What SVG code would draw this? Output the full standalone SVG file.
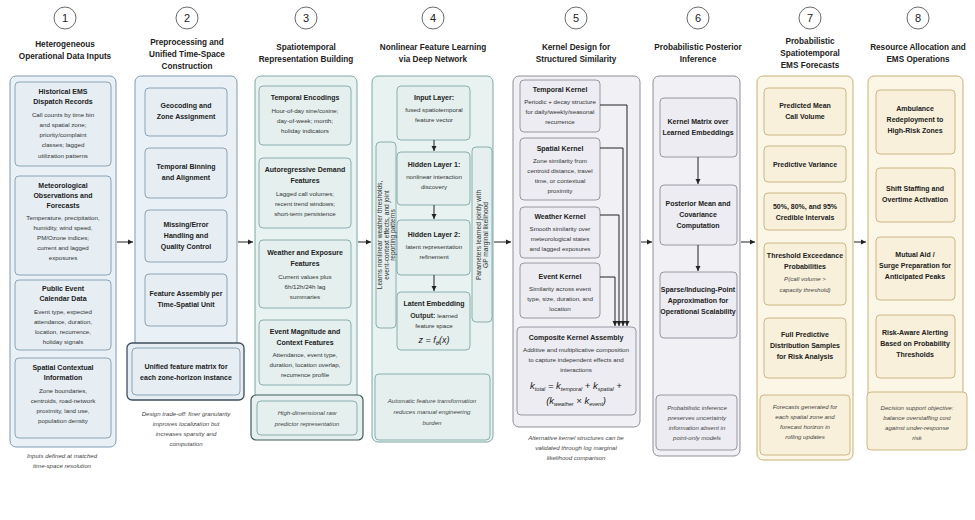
<svg xmlns="http://www.w3.org/2000/svg" width="975" height="520" viewBox="0 0 975 520">
<defs>
<marker id="ah" markerWidth="6" markerHeight="6" refX="5" refY="3" orient="auto"><path d="M0,0.5 L5,3 L0,5.5 z" fill="#222"/></marker>
<style>
text{font-family:"Liberation Sans Narrow","Liberation Sans",Arial,sans-serif;fill:#222;text-anchor:middle}
.h{font-size:8.2px;font-weight:bold}
.n{font-size:11px}
.t{font-size:7px;font-weight:bold}
.b{font-size:6.2px;fill:#333}
.v{font-size:6.6px;fill:#333}
.i{font-size:6.1px;font-style:italic;fill:#444}
.c{fill:#fff;stroke:#444;stroke-width:0.8}
.ob{fill:#eaf1f6;stroke:#7f9bb0;stroke-width:1}
.ib{fill:#e6eef4;stroke:#7f9bb0;stroke-width:0.9}
.ot{fill:#e8f2f1;stroke:#7fa8a6;stroke-width:1}
.it{fill:#e4efee;stroke:#7fa8a6;stroke-width:0.9}
.og{fill:#f1f1f5;stroke:#8e8e98;stroke-width:1}
.ig{fill:#ececf2;stroke:#8e8e98;stroke-width:0.9}
.oy{fill:#fbf6e6;stroke:#c8b07a;stroke-width:1}
.iy{fill:#f8f0da;stroke:#c8b07a;stroke-width:0.9}
.cn{stroke:#222;stroke-width:1;fill:none;marker-end:url(#ah)}
</style>
</defs>

<g id="col1">
<circle class="c" cx="65" cy="18" r="11"/><text class="n" x="65" y="22">1</text>
<text class="h" x="65" y="47">Heterogeneous</text><text class="h" x="65" y="59">Operational Data Inputs</text>
<rect class="ob" x="10" y="76" width="106" height="371" rx="6"/>
<rect class="ib" x="15" y="82" width="96" height="84" rx="4"/>
<text class="t" x="63" y="94">Historical EMS</text><text class="t" x="63" y="104">Dispatch Records</text>
<text class="b" x="63" y="117">Call counts by time bin</text><text class="b" x="63" y="127">and spatial zone;</text><text class="b" x="63" y="137">priority/complaint</text><text class="b" x="63" y="147">classes; lagged</text><text class="b" x="63" y="158">utilization patterns</text>
<rect class="ib" x="15" y="176" width="96" height="99" rx="4"/>
<text class="t" x="63" y="188">Meteorological</text><text class="t" x="63" y="198">Observations and</text><text class="t" x="63" y="208">Forecasts</text>
<text class="b" x="63" y="220">Temperature, precipitation,</text><text class="b" x="63" y="230">humidity, wind speed,</text><text class="b" x="63" y="240">PM/Ozone indices;</text><text class="b" x="63" y="250">current and lagged</text><text class="b" x="63" y="260">exposures</text>
<rect class="ib" x="15" y="280" width="96" height="70" rx="4"/>
<text class="t" x="63" y="291">Public Event</text><text class="t" x="63" y="301">Calendar Data</text>
<text class="b" x="63" y="314">Event type, expected</text><text class="b" x="63" y="324">attendance, duration,</text><text class="b" x="63" y="334">location, recurrence,</text><text class="b" x="63" y="344">holiday signals</text>
<rect class="ib" x="15" y="358" width="96" height="80" rx="4"/>
<text class="t" x="63" y="370">Spatial Contextual</text><text class="t" x="63" y="380">Information</text>
<text class="b" x="63" y="393">Zone boundaries,</text><text class="b" x="63" y="403">centroids, road-network</text><text class="b" x="63" y="413">proximity, land use,</text><text class="b" x="63" y="423">population density</text>
<text class="i" x="62" y="458">Inputs defined at matched</text><text class="i" x="62" y="468">time-space resolution</text>
</g>

<g id="col2">
<circle class="c" cx="187" cy="18" r="11"/><text class="n" x="187" y="22">2</text>
<text class="h" x="187" y="45">Preprocessing and</text><text class="h" x="187" y="57">Unified Time-Space</text><text class="h" x="187" y="69">Construction</text>
<rect class="ob" x="135" y="76" width="102" height="320" rx="6"/>
<rect class="ib" x="145" y="88" width="82" height="48" rx="4"/>
<text class="t" x="186" y="108">Geocoding and</text><text class="t" x="186" y="119">Zone Assignment</text>
<rect class="ib" x="145" y="148" width="82" height="50" rx="4"/>
<text class="t" x="186" y="169">Temporal Binning</text><text class="t" x="186" y="180">and Alignment</text>
<rect class="ib" x="145" y="210" width="82" height="52" rx="4"/>
<text class="t" x="186" y="227">Missing/Error</text><text class="t" x="186" y="238">Handling and</text><text class="t" x="186" y="249">Quality Control</text>
<rect class="ib" x="145" y="274" width="82" height="52" rx="4"/>
<text class="t" x="186" y="296">Feature Assembly per</text><text class="t" x="186" y="307">Time-Spatial Unit</text>
<rect x="127" y="343" width="117" height="57" rx="5" fill="#e6eef4" stroke="#3f4e5c" stroke-width="1.3"/>
<rect class="ib" x="132" y="348" width="108" height="47" rx="4"/>
<text class="t" x="186" y="369">Unified feature matrix for</text><text class="t" x="186" y="380">each zone-horizon instance</text>
<text class="i" x="186" y="416">Design trade-off: finer granularity</text><text class="i" x="186" y="426">improves localization but</text><text class="i" x="186" y="436">increases sparsity and</text><text class="i" x="186" y="446">computation</text>
</g>

<g id="col3">
<circle class="c" cx="306" cy="18" r="11"/><text class="n" x="306" y="22">3</text>
<text class="h" x="306" y="50">Spatiotemporal</text><text class="h" x="306" y="62">Representation Building</text>
<rect class="ot" x="255" y="76" width="102" height="362" rx="6"/>
<rect class="it" x="259" y="86" width="92" height="59" rx="4"/>
<text class="t" x="305" y="100">Temporal Encodings</text>
<text class="b" x="305" y="113">Hour-of-day sine/cosine;</text><text class="b" x="305" y="123">day-of-week; month;</text><text class="b" x="305" y="133">holiday indicators</text>
<rect class="it" x="259" y="158" width="92" height="70" rx="4"/>
<text class="t" x="305" y="172">Autoregressive Demand</text><text class="t" x="305" y="183">Features</text>
<text class="b" x="305" y="196">Lagged call volumes;</text><text class="b" x="305" y="206">recent trend windows;</text><text class="b" x="305" y="216">short-term persistence</text>
<rect class="it" x="259" y="240" width="92" height="68" rx="4"/>
<text class="t" x="305" y="255">Weather and Exposure</text><text class="t" x="305" y="266">Features</text>
<text class="b" x="305" y="279">Current values plus</text><text class="b" x="305" y="289">6h/12h/24h lag</text><text class="b" x="305" y="299">summaries</text>
<rect class="it" x="259" y="320" width="92" height="65" rx="4"/>
<text class="t" x="305" y="334">Event Magnitude and</text><text class="t" x="305" y="345">Context Features</text>
<text class="b" x="305" y="357">Attendance, event type,</text><text class="b" x="305" y="367">duration, location overlap,</text><text class="b" x="305" y="377">recurrence profile</text>
<rect x="251" y="395" width="112" height="45" rx="5" fill="#e4efee" stroke="#3f5c5a" stroke-width="1.2"/>
<rect class="it" x="257" y="401" width="100" height="34" rx="4"/>
<text class="i" x="307" y="415">High-dimensional raw</text><text class="i" x="307" y="426">predictor representation</text>
</g>

<g id="col4">
<circle class="c" cx="433" cy="18" r="11"/><text class="n" x="433" y="22">4</text>
<text class="h" x="433" y="50">Nonlinear Feature Learning</text><text class="h" x="433" y="62">via Deep Network</text>
<rect class="ot" x="372" y="76" width="121" height="366" rx="6"/>
<rect class="it" x="397" y="86" width="73" height="54" rx="4"/>
<text class="t" x="434" y="100">Input Layer:</text><text class="b" x="434" y="112">fused spatiotemporal</text><text class="b" x="434" y="122">feature vector</text>
<rect class="it" x="397" y="152" width="73" height="53" rx="4"/>
<text class="t" x="434" y="167">Hidden Layer 1:</text><text class="b" x="434" y="179">nonlinear interaction</text><text class="b" x="434" y="189">discovery</text>
<rect class="it" x="397" y="220" width="73" height="55" rx="4"/>
<text class="t" x="434" y="237">Hidden Layer 2:</text><text class="b" x="434" y="249">latent representation</text><text class="b" x="434" y="259">refinement</text>
<rect class="it" x="397" y="292" width="73" height="58" rx="4"/>
<text class="t" x="434" y="306">Latent Embedding</text><text class="b" x="434" y="318"><tspan font-weight="bold" font-size="7px">Output:</tspan> learned</text><text class="b" x="434" y="328">feature space</text>
<text x="434" y="343" font-family="Liberation Serif,serif" font-style="italic" font-size="9px">z = f<tspan font-size="6px" dy="2">θ</tspan><tspan dy="-2">(x)</tspan></text>
<rect class="it" x="376" y="142" width="20" height="186" rx="4"/>
<text class="v" transform="translate(382,235) rotate(-90)"><tspan x="0" y="0">Learns nonlinear weather thresholds,</tspan><tspan x="0" y="6.6">event-context effects, and joint</tspan><tspan x="0" y="13.2">reporting patterns</tspan></text>
<rect class="it" x="472" y="147" width="20" height="175" rx="4"/>
<text class="v" transform="translate(481,235) rotate(-90)"><tspan x="0" y="0">Parameters learned jointly with</tspan><tspan x="0" y="7">GP marginal likelihood</tspan></text>
<rect class="it" x="375" y="374" width="115" height="66" rx="4"/>
<text class="i" x="432" y="403">Automatic feature transformation</text><text class="i" x="432" y="414">reduces manual engineering</text><text class="i" x="432" y="425">burden</text>
</g>

<g id="col5">
<circle class="c" cx="576" cy="18" r="11"/><text class="n" x="576" y="22">5</text>
<text class="h" x="576" y="50">Kernel Design for</text><text class="h" x="576" y="62">Structured Similarity</text>
<rect class="og" x="513" y="76" width="127" height="351" rx="6"/>
<rect class="ig" x="520" y="80" width="80" height="52" rx="4"/>
<text class="t" x="560" y="92">Temporal Kernel</text>
<text class="b" x="560" y="104">Periodic + decay structure</text><text class="b" x="560" y="114">for daily/weekly/seasonal</text><text class="b" x="560" y="124">recurrence</text>
<rect class="ig" x="520" y="138" width="80" height="62" rx="4"/>
<text class="t" x="560" y="151">Spatial Kernel</text>
<text class="b" x="560" y="163">Zone similarity from</text><text class="b" x="560" y="173">centroid distance, travel</text><text class="b" x="560" y="183">time, or contextual</text><text class="b" x="560" y="193">proximity</text>
<rect class="ig" x="520" y="207" width="80" height="51" rx="4"/>
<text class="t" x="560" y="219">Weather Kernel</text>
<text class="b" x="560" y="231">Smooth similarity over</text><text class="b" x="560" y="241">meteorological states</text><text class="b" x="560" y="251">and lagged exposures</text>
<rect class="ig" x="520" y="263" width="80" height="55" rx="4"/>
<text class="t" x="560" y="279">Event Kernel</text>
<text class="b" x="560" y="291">Similarity across event</text><text class="b" x="560" y="301">type, size, duration, and</text><text class="b" x="560" y="311">location</text>
<rect class="ig" x="517" y="327" width="119" height="88" rx="4"/>
<text class="t" x="576" y="340">Composite Kernel Assembly</text>
<text class="b" x="576" y="352">Additive and multiplicative composition</text><text class="b" x="576" y="362">to capture independent effects and</text><text class="b" x="576" y="372">interactions</text>
<text x="576" y="389" font-family="Liberation Serif,serif" font-style="italic" font-size="9.5px">k<tspan font-size="5.5px" dy="2">total</tspan><tspan dy="-2"> = k</tspan><tspan font-size="5.5px" dy="2">temporal</tspan><tspan dy="-2"> + k</tspan><tspan font-size="5.5px" dy="2">spatial</tspan><tspan dy="-2"> +</tspan></text>
<text x="576" y="404" font-family="Liberation Serif,serif" font-style="italic" font-size="9.5px">(k<tspan font-size="5.5px" dy="2">weather</tspan><tspan dy="-2"> × k</tspan><tspan font-size="5.5px" dy="2">event</tspan><tspan dy="-2">)</tspan></text>
<text class="i" x="576" y="440">Alternative kernel structures can be</text><text class="i" x="576" y="450">validated through log marginal</text><text class="i" x="576" y="460">likelihood comparison</text>
</g>

<g id="col6">
<circle class="c" cx="698" cy="18" r="11"/><text class="n" x="698" y="22">6</text>
<text class="h" x="698" y="50">Probabilistic Posterior</text><text class="h" x="698" y="62">Inference</text>
<rect class="og" x="653" y="76" width="87" height="380" rx="6"/>
<rect class="ig" x="660" y="98" width="77" height="59" rx="4"/>
<text class="t" x="698" y="124">Kernel Matrix over</text><text class="t" x="698" y="135">Learned Embeddings</text>
<rect class="ig" x="660" y="185" width="77" height="60" rx="4"/>
<text class="t" x="698" y="206">Posterior Mean and</text><text class="t" x="698" y="217">Covariance</text><text class="t" x="698" y="228">Computation</text>
<rect class="ig" x="660" y="272" width="77" height="66" rx="4"/>
<text class="t" x="698" y="292">Sparse/Inducing-Point</text><text class="t" x="698" y="303">Approximation for</text><text class="t" x="698" y="314">Operational Scalability</text>
<rect class="ig" x="656" y="395" width="81" height="55" rx="4"/>
<text class="i" x="697" y="410">Probabilistic inference</text><text class="i" x="697" y="420">preserves uncertainty</text><text class="i" x="697" y="430">information absent in</text><text class="i" x="697" y="440">point-only models</text>
</g>

<g id="col7">
<circle class="c" cx="810" cy="18" r="11"/><text class="n" x="810" y="22">7</text>
<text class="h" x="810" y="44">Probabilistic</text><text class="h" x="810" y="56">Spatiotemporal</text><text class="h" x="810" y="68">EMS Forecasts</text>
<rect class="oy" x="757" y="76" width="96" height="384" rx="6"/>
<rect class="iy" x="764" y="88" width="82" height="47" rx="4"/>
<text class="t" x="805" y="108">Predicted Mean</text><text class="t" x="805" y="119">Call Volume</text>
<rect class="iy" x="764" y="146" width="82" height="36" rx="4"/>
<text class="t" x="805" y="167">Predictive Variance</text>
<rect class="iy" x="764" y="193" width="82" height="37" rx="4"/>
<text class="t" x="805" y="209">50%, 80%, and 95%</text><text class="t" x="805" y="220">Credible Intervals</text>
<rect class="iy" x="764" y="243" width="82" height="62" rx="4"/>
<text class="t" x="805" y="258">Threshold Exceedance</text><text class="t" x="805" y="269">Probabilities</text><text class="i" x="805" y="281">P(call volume &gt;</text><text class="i" x="805" y="292">capacity threshold)</text>
<rect class="iy" x="764" y="318" width="82" height="60" rx="4"/>
<text class="t" x="805" y="337">Full Predictive</text><text class="t" x="805" y="348">Distribution Samples</text><text class="t" x="805" y="359">for Risk Analysis</text>
<rect class="iy" x="760" y="395" width="90" height="60" rx="4"/>
<text class="i" x="805" y="409">Forecasts generated for</text><text class="i" x="805" y="419">each spatial zone and</text><text class="i" x="805" y="429">forecast horizon in</text><text class="i" x="805" y="439">rolling updates</text>
</g>

<g id="col8">
<circle class="c" cx="918" cy="18" r="11"/><text class="n" x="918" y="22">8</text>
<text class="h" x="918" y="50">Resource Allocation and</text><text class="h" x="918" y="62">EMS Operations</text>
<rect class="oy" x="868" y="76" width="95" height="372" rx="6"/>
<rect class="iy" x="876" y="90" width="79" height="64" rx="4"/>
<text class="t" x="915" y="111">Ambulance</text><text class="t" x="915" y="122">Redeployment to</text><text class="t" x="915" y="133">High-Risk Zones</text>
<rect class="iy" x="876" y="168" width="79" height="54" rx="4"/>
<text class="t" x="915" y="191">Shift Staffing and</text><text class="t" x="915" y="202">Overtime Activation</text>
<rect class="iy" x="876" y="237" width="79" height="63" rx="4"/>
<text class="t" x="915" y="257">Mutual Aid /</text><text class="t" x="915" y="268">Surge Preparation for</text><text class="t" x="915" y="279">Anticipated Peaks</text>
<rect class="iy" x="876" y="315" width="79" height="63" rx="4"/>
<text class="t" x="915" y="335">Risk-Aware Alerting</text><text class="t" x="915" y="346">Based on Probability</text><text class="t" x="915" y="357">Thresholds</text>
<rect class="iy" x="867" y="392" width="100" height="58" rx="4"/>
<text class="i" x="917" y="410">Decision support objective:</text><text class="i" x="917" y="420">balance overstaffing cost</text><text class="i" x="917" y="430">against under-response</text><text class="i" x="917" y="440">risk</text>
</g>

<g id="connectors">
<path class="cn" d="M117,242 H133"/>
<path class="cn" d="M238,242 H253"/>
<path class="cn" d="M358,242 H371"/>
<path class="cn" d="M494,242 H511"/>
<path class="cn" d="M641,242 H652"/>
<path class="cn" d="M741,242 H755"/>
<path class="cn" d="M854,242 H866"/>
<path class="cn" d="M434,140 V151"/>
<path class="cn" d="M434,205 V219"/>
<path class="cn" d="M434,275 V291"/>
<path class="cn" d="M698,157 V184"/>
<path class="cn" d="M698,245 V271"/>
<path class="cn" d="M600,105 H627 V326"/>
<path class="cn" d="M600,148 H623 V326"/>
<path class="cn" d="M600,215 H619 V326"/>
<path class="cn" d="M600,277 H615 V326"/>
</g>
</svg>
